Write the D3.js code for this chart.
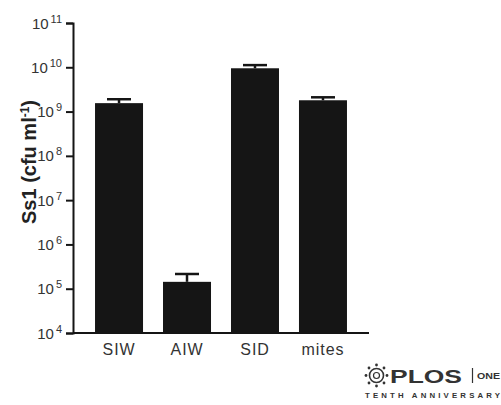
<!DOCTYPE html>
<html><head><meta charset="utf-8">
<script src="https://cdn.jsdelivr.net/npm/d3@7"></script>
<style>body{margin:0;background:#fff;}svg{display:block;}</style>
</head><body>
<script>
const categories = ["SIW", "AIW", "SID", "mites"];
const means = [1.55e9, 1.43e5, 0.95e10, 1.8e9];
const upperErr = [1.9e9, 2.15e5, 1.12e10, 2.1e9];
const tickExponents = [4, 5, 6, 7, 8, 9, 10, 11];

const W = 501, H = 405;
const svg = d3.select("body").append("svg").attr("width", W).attr("height", H);
svg.append("rect").attr("width", W).attr("height", H).attr("fill", "#fff");

const x = d3.scaleBand().domain(categories).range([73, 369]).paddingInner(0.294).paddingOuter(0.324);
const y = d3.scaleLog().domain([1e4, 1e11]).range([333, 23]);
const ink = "#151515";
const font = "Liberation Sans, Arial, sans-serif";

// bars
svg.selectAll("rect.bar").data(categories).enter().append("rect")
  .attr("class", "bar")
  .attr("x", d => x(d)).attr("width", x.bandwidth())
  .attr("y", (d, i) => y(means[i]))
  .attr("height", (d, i) => y(1e4) - y(means[i]))
  .attr("fill", ink);

// error bars
const eb = svg.append("g").attr("stroke", ink).attr("stroke-width", 2.5);
categories.forEach((c, i) => {
  const cx = x(c) + x.bandwidth() / 2;
  eb.append("line").attr("x1", cx).attr("x2", cx).attr("y1", y(means[i])).attr("y2", y(upperErr[i]));
  eb.append("line").attr("x1", cx - 12).attr("x2", cx + 12).attr("y1", y(upperErr[i])).attr("y2", y(upperErr[i]));
});

// y axis
const yAxis = d3.axisLeft(y).tickValues(tickExponents.map(e => Math.pow(10, e))).tickSize(7).tickFormat("");
const yg = svg.append("g").attr("transform", "translate(73,0)").call(yAxis);
yg.select(".domain").attr("stroke", ink).attr("stroke-width", 2);
yg.selectAll(".tick line").attr("stroke", ink).attr("stroke-width", 2);
yg.selectAll(".tick").each(function(d) {
  const e = Math.round(Math.log10(d));
  const t = d3.select(this).append("text")
    .attr("x", -11).attr("y", 5).attr("text-anchor", "end")
    .attr("font-family", font).attr("fill", "#333");
  t.append("tspan").attr("font-size", 15).text("10");
  t.append("tspan").attr("font-size", 11).attr("dx", 2).attr("dy", -6).text(e);
});

// x axis
const xAxis = d3.axisBottom(x).tickSize(0).tickPadding(0);
const xg = svg.append("g").attr("transform", "translate(0,333)").call(xAxis);
xg.select(".domain").attr("stroke", ink).attr("stroke-width", 2).attr("d", "M73,0H369");
xg.selectAll(".tick text").attr("font-family", font).attr("font-size", 16)
  .attr("letter-spacing", 0.9).attr("fill", "#333").attr("y", 21.5).attr("dy", 0);

// y title
const yt = svg.append("text").attr("transform", "translate(36,162) rotate(-90)")
  .attr("text-anchor", "middle").attr("font-family", font)
  .attr("font-weight", "bold").attr("font-size", 20).attr("fill", "#222");
yt.append("tspan").text("Ss1 (cfu ml");
yt.append("tspan").attr("font-size", 12).attr("dy", -7).text("-1");
yt.append("tspan").attr("dy", 7).text(")");

// PLOS logo
const lg = svg.append("g").attr("font-family", font).attr("fill", "#333");
lg.append("circle").attr("cx", 376.5).attr("cy", 375.5).attr("r", 7).attr("fill", "none").attr("stroke", "#333").attr("stroke-width", 1.6);
lg.append("circle").attr("cx", 376.5).attr("cy", 375.5).attr("r", 3).attr("fill", "none").attr("stroke", "#333").attr("stroke-width", 1.2);
[[0,-10.5],[7.5,-7.5],[10.5,0],[7.5,7.5],[0,10.5],[-7.5,7.5],[-10.5,0],[-7.5,-7.5]].forEach(p => {
  lg.append("circle").attr("cx", 376.5 + p[0]).attr("cy", 375.5 + p[1]).attr("r", 1.4).attr("fill", "#333");
});
lg.append("text").attr("x", 390).attr("y", 383).attr("font-size", 19).attr("font-weight", "bold")
  .attr("textLength", 72).attr("lengthAdjust", "spacingAndGlyphs").text("PLOS");
lg.append("line").attr("x1", 472.5).attr("x2", 472.5).attr("y1", 368).attr("y2", 383).attr("stroke", "#333").attr("stroke-width", 1.2);
lg.append("text").attr("x", 477).attr("y", 379).attr("font-size", 8.5).attr("font-weight", "bold")
  .attr("textLength", 23).attr("lengthAdjust", "spacingAndGlyphs").text("ONE");
lg.append("text").attr("x", 365).attr("y", 397.5).attr("font-size", 7.8).attr("font-weight", "bold")
  .attr("textLength", 135).attr("lengthAdjust", "spacing").text("TENTH ANNIVERSARY");
</script>
</body></html>
